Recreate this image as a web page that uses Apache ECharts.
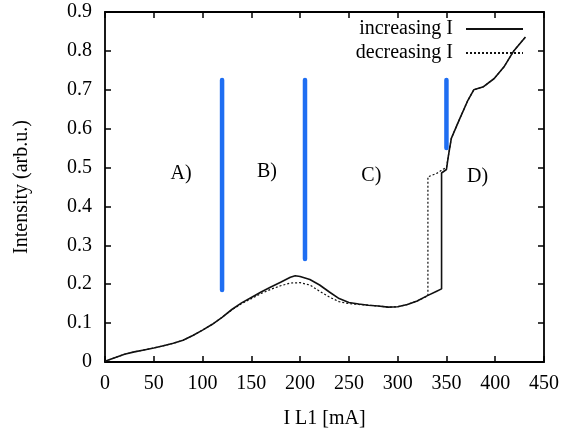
<!DOCTYPE html>
<html>
<head>
<meta charset="utf-8">
<script src="https://cdn.jsdelivr.net/npm/echarts@6/dist/echarts.min.js"></script>
<style>
  html, body { margin: 0; padding: 0; background: #fff; }
  #chart { width: 562px; height: 438px; }
</style>
</head>
<body>
<div id="chart"></div>
<script>
// 递增电流曲线 (increasing I)
const increasing = [
  [0, 0.002], [10, 0.011], [20, 0.02], [30, 0.026], [40, 0.031], [50, 0.036],
  [60, 0.042], [70, 0.048], [80, 0.056], [90, 0.068], [100, 0.082], [110, 0.097],
  [120, 0.115], [130, 0.135], [140, 0.152], [150, 0.166], [160, 0.18], [170, 0.193],
  [180, 0.205], [190, 0.218], [195, 0.222], [200, 0.22], [210, 0.212], [220, 0.198],
  [230, 0.18], [240, 0.163], [250, 0.153], [260, 0.149], [270, 0.146], [280, 0.144],
  [290, 0.141], [300, 0.142], [310, 0.148], [320, 0.157], [330, 0.17], [340, 0.182],
  [345, 0.188], [345, 0.486], [350, 0.495], [352, 0.53], [355, 0.575], [363, 0.622],
  [372, 0.673], [378, 0.7], [388, 0.708], [399, 0.729], [409, 0.759], [419, 0.8], [431, 0.836]
];
// 递减电流曲线 (decreasing I)
const decreasing = [
  [0, 0.002], [10, 0.011], [20, 0.02], [30, 0.026], [40, 0.031], [50, 0.036],
  [60, 0.042], [70, 0.048], [80, 0.056], [90, 0.068], [100, 0.082], [110, 0.097],
  [120, 0.115], [130, 0.134], [140, 0.15], [150, 0.163], [160, 0.176], [170, 0.187],
  [180, 0.196], [190, 0.203], [200, 0.204], [210, 0.198], [220, 0.182], [230, 0.167],
  [240, 0.155], [250, 0.15], [260, 0.148], [270, 0.146], [280, 0.144], [290, 0.141],
  [300, 0.142], [310, 0.148], [320, 0.157], [331, 0.17], [331, 0.476], [340, 0.485],
  [346, 0.495], [350, 0.5], [352, 0.53], [355, 0.575], [363, 0.622], [372, 0.673],
  [378, 0.7], [388, 0.708], [399, 0.729], [409, 0.759], [419, 0.8], [431, 0.836]
];
// 区域分隔线
const dividerX = [120, 205, 350];
const dividerBottom = [0.185, 0.265, 0.55];
const dividerTop = [0.725, 0.725, 0.725];
// 区域标签
const regionNames = ['A)', 'B)', 'C)', 'D)'];
const regionPos = [[78, 0.485], [166, 0.489], [273, 0.48], [382, 0.476]];

const font = 'Liberation Serif';
const fs = 20;

const chart = echarts.init(document.getElementById('chart'), null, { renderer: 'canvas' });

const tick = { show: true, inside: true, length: 6, lineStyle: { color: '#000', width: 1.5 } };
const axisLine = { show: true, onZero: false, lineStyle: { color: '#000', width: 1.8 } };

const dividerSeries = dividerX.map((x, i) => ({
  type: 'line',
  name: 'div' + i,
  data: [[x, dividerBottom[i]], [x, dividerTop[i]]],
  symbol: 'none',
  lineStyle: { color: '#1f6ef2', width: 4.5, cap: 'round' },
  silent: true,
  z: 1
}));

chart.setOption({
  animation: false,
  grid: { left: 105, right: 15, top: 12, bottom: 76 },
  legend: {
    data: ['increasing I', 'decreasing I'],
    orient: 'vertical',
    align: 'right',
    right: 33,
    top: 14,
    itemWidth: 57,
    itemHeight: 14,
    itemGap: 4,
    itemStyle: { opacity: 0 },
    textStyle: { fontFamily: font, fontSize: fs, color: '#000', padding: [0, 8, 0, 0] }
  },
  xAxis: [{
    type: 'value', min: 0, max: 450, interval: 50,
    axisLine: axisLine, axisTick: tick, splitLine: { show: false },
    axisLabel: { margin: 12, fontFamily: font, fontSize: fs, color: '#000' },
    name: 'I L1 [mA]', nameLocation: 'middle', nameGap: 47,
    nameTextStyle: { fontFamily: font, fontSize: fs, color: '#000' }
  }, {
    type: 'value', position: 'top', min: 0, max: 450, interval: 50,
    axisLine: axisLine, axisTick: tick, splitLine: { show: false },
    axisLabel: { show: false }
  }],
  yAxis: [{
    type: 'value', min: 0, max: 0.9, interval: 0.1,
    axisLine: axisLine, axisTick: tick, splitLine: { show: false },
    axisLabel: { margin: 13, fontFamily: font, fontSize: fs, color: '#000' },
    name: 'Intensity (arb.u.)', nameLocation: 'middle', nameGap: 73,
    nameTextStyle: { fontFamily: font, fontSize: fs, color: '#000' }
  }, {
    type: 'value', position: 'right', min: 0, max: 0.9, interval: 0.1,
    axisLine: axisLine, axisTick: tick, splitLine: { show: false },
    axisLabel: { show: false }
  }],
  series: [
    ...dividerSeries,
    {
      type: 'line', name: 'increasing I', data: increasing,
      symbol: 'none', itemStyle: { color: '#111' },
      lineStyle: { color: '#111', width: 1.6 }, z: 3
    },
    {
      type: 'line', name: 'decreasing I', data: decreasing,
      symbol: 'none', itemStyle: { color: '#111' },
      lineStyle: { color: '#111', width: 1.2, type: [2, 2] }, z: 3
    },
    {
      type: 'scatter', name: 'labels', symbolSize: 0, silent: true,
      itemStyle: { opacity: 1 },
      data: regionPos.map((p, i) => ({ value: p, name: regionNames[i] })),
      label: {
        show: true, position: 'inside', formatter: p => p.name,
        fontFamily: font, fontSize: fs, color: '#000'
      }
    }
  ]
});
</script>
</body>
</html>
